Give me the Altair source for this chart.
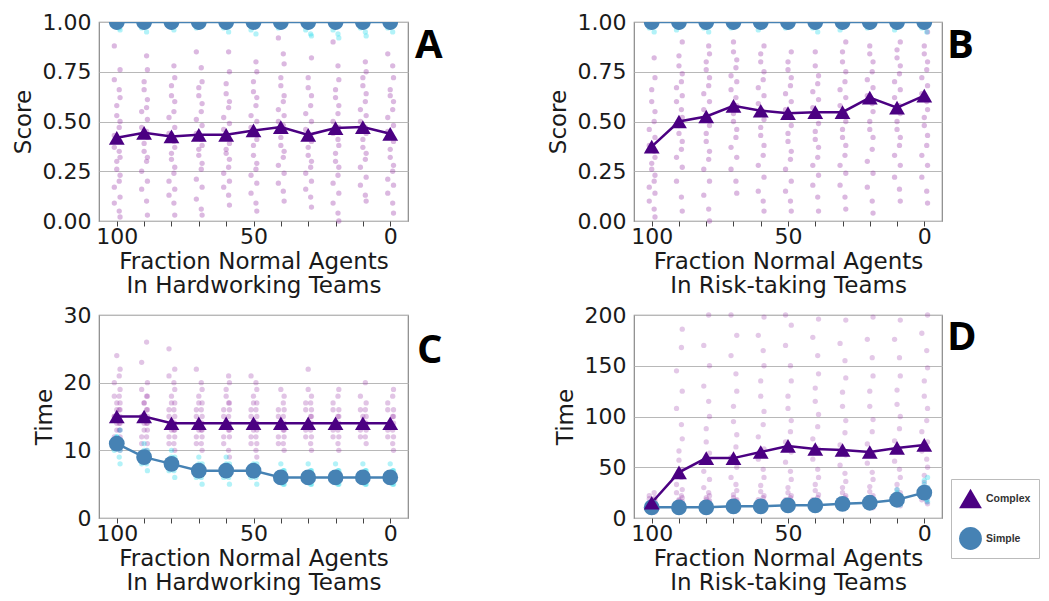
import altair as alt
import pandas as pd

X = [100, 90, 80, 70, 60, 50, 40, 30, 20, 10, 0]

A_COMPLEX_MEAN = [0.418, 0.443, 0.425, 0.433, 0.433, 0.455, 0.472, 0.433, 0.467, 0.472, 0.438]
A_SIMPLE_MEAN = [1.0, 1.0, 1.0, 1.0, 1.0, 1.0, 1.0, 1.0, 1.0, 1.0, 1.0]
B_COMPLEX_MEAN = [0.374, 0.50, 0.525, 0.579, 0.554, 0.542, 0.547, 0.547, 0.62, 0.57, 0.63]
B_SIMPLE_MEAN = [1.0, 1.0, 1.0, 1.0, 1.0, 1.0, 1.0, 1.0, 1.0, 1.0, 1.0]
C_COMPLEX_MEAN = [15, 15, 14, 14, 14, 14, 14, 14, 14, 14, 14]
C_SIMPLE_MEAN = [11, 9, 8, 7, 7, 7, 6, 6, 6, 6, 6]
D_COMPLEX_MEAN = [15, 45, 59, 59, 65, 71, 68, 67, 65, 69, 72]
D_SIMPLE_MEAN = [10.5, 10.5, 10.5, 11.5, 11.5, 12.5, 12.5, 14, 15, 18, 25]

A_COMPLEX_RUNS = [
    [0.02, 0.05, 0.09, 0.12, 0.17, 0.2, 0.23, 0.26, 0.3, 0.32, 0.35, 0.37, 0.4, 0.43, 0.47, 0.5, 0.53, 0.58, 0.62, 0.66, 0.71, 0.76, 0.88],
    [0.03, 0.1, 0.16, 0.2, 0.25, 0.3, 0.32, 0.35, 0.39, 0.42, 0.45, 0.47, 0.51, 0.55, 0.57, 0.61, 0.66, 0.7, 0.76, 0.83],
    [0.03, 0.09, 0.13, 0.16, 0.2, 0.24, 0.27, 0.31, 0.34, 0.37, 0.4, 0.44, 0.47, 0.52, 0.55, 0.6, 0.63, 0.68, 0.72, 0.78],
    [0.03, 0.06, 0.11, 0.17, 0.21, 0.26, 0.29, 0.33, 0.36, 0.38, 0.41, 0.44, 0.48, 0.51, 0.55, 0.59, 0.63, 0.67, 0.7, 0.77, 0.85],
    [0.08, 0.13, 0.17, 0.2, 0.24, 0.27, 0.31, 0.34, 0.36, 0.39, 0.42, 0.46, 0.49, 0.52, 0.57, 0.6, 0.64, 0.69, 0.75, 0.85],
    [0.05, 0.09, 0.14, 0.19, 0.23, 0.26, 0.29, 0.33, 0.38, 0.41, 0.44, 0.47, 0.5, 0.53, 0.58, 0.62, 0.65, 0.7, 0.75, 0.8],
    [0.1, 0.15, 0.19, 0.24, 0.28, 0.32, 0.35, 0.38, 0.42, 0.45, 0.48, 0.5, 0.53, 0.56, 0.6, 0.63, 0.68, 0.72, 0.79, 0.84, 0.92],
    [0.07, 0.12, 0.16, 0.2, 0.24, 0.27, 0.3, 0.33, 0.37, 0.4, 0.43, 0.46, 0.5, 0.54, 0.58, 0.63, 0.67, 0.72, 0.82],
    [0.0, 0.04, 0.09, 0.14, 0.19, 0.23, 0.27, 0.3, 0.34, 0.38, 0.41, 0.44, 0.47, 0.5, 0.54, 0.58, 0.62, 0.66, 0.71, 0.78, 0.9],
    [0.1, 0.13, 0.18, 0.22, 0.27, 0.31, 0.34, 0.37, 0.41, 0.44, 0.47, 0.5, 0.53, 0.56, 0.6, 0.64, 0.68, 0.72, 0.75, 0.8],
    [0.04, 0.09, 0.14, 0.18, 0.21, 0.25, 0.28, 0.32, 0.36, 0.4, 0.42, 0.45, 0.48, 0.52, 0.56, 0.6, 0.63, 0.66, 0.72, 0.78, 0.84],
]
A_SIMPLE_RUNS = [
    [1.0, 1.0, 0.99, 0.99, 0.98, 0.97, 0.96],
    [1.0, 1.0, 0.99, 0.98, 0.97, 0.95],
    [1.0, 1.0, 0.99, 0.99, 0.98, 0.96],
    [1.0, 1.0, 0.99, 0.98, 0.97],
    [1.0, 1.0, 0.99, 0.98, 0.97, 0.95],
    [1.0, 1.0, 0.99, 0.98, 0.96, 0.94],
    [1.0, 1.0, 0.99, 0.98, 0.97],
    [1.0, 1.0, 0.99, 0.98, 0.96, 0.94, 0.93],
    [1.0, 1.0, 0.99, 0.98, 0.96, 0.94, 0.92],
    [1.0, 1.0, 0.99, 0.98, 0.97, 0.95, 0.93],
    [1.0, 1.0, 0.99, 0.98, 0.97, 0.95],
]
B_COMPLEX_RUNS = [
    [0.02, 0.06, 0.1, 0.14, 0.17, 0.2, 0.23, 0.26, 0.29, 0.32, 0.35, 0.38, 0.42, 0.46, 0.5, 0.55, 0.6, 0.66, 0.72, 0.82],
    [0.05, 0.12, 0.2, 0.27, 0.32, 0.36, 0.4, 0.44, 0.48, 0.52, 0.56, 0.6, 0.63, 0.67, 0.7, 0.74, 0.78, 0.83, 0.9],
    [0.0, 0.06, 0.13, 0.2, 0.26, 0.31, 0.35, 0.4, 0.44, 0.48, 0.52, 0.56, 0.6, 0.64, 0.68, 0.72, 0.76, 0.8, 0.84, 0.88],
    [0.14, 0.2, 0.26, 0.32, 0.37, 0.42, 0.46, 0.5, 0.54, 0.58, 0.62, 0.66, 0.7, 0.73, 0.77, 0.81, 0.85, 0.9],
    [0.05, 0.1, 0.15, 0.22, 0.28, 0.33, 0.38, 0.43, 0.47, 0.51, 0.55, 0.59, 0.63, 0.67, 0.71, 0.75, 0.8, 0.84, 0.88],
    [0.05, 0.1, 0.15, 0.2, 0.26, 0.31, 0.35, 0.4, 0.44, 0.48, 0.52, 0.56, 0.6, 0.64, 0.68, 0.72, 0.76, 0.8, 0.85],
    [0.05, 0.12, 0.18, 0.23, 0.28, 0.32, 0.37, 0.41, 0.45, 0.49, 0.53, 0.57, 0.61, 0.65, 0.69, 0.73, 0.78, 0.85],
    [0.06, 0.12, 0.18, 0.24, 0.28, 0.33, 0.38, 0.42, 0.46, 0.5, 0.54, 0.58, 0.62, 0.66, 0.7, 0.75, 0.8, 0.85, 0.9],
    [0.04, 0.1, 0.17, 0.24, 0.3, 0.36, 0.42, 0.46, 0.5, 0.55, 0.59, 0.63, 0.67, 0.71, 0.75, 0.8, 0.84, 0.88],
    [0.1, 0.16, 0.22, 0.28, 0.33, 0.38, 0.42, 0.46, 0.5, 0.54, 0.58, 0.62, 0.66, 0.7, 0.74, 0.78, 0.82, 0.86, 0.9],
    [0.09, 0.15, 0.22, 0.28, 0.33, 0.38, 0.43, 0.48, 0.52, 0.56, 0.6, 0.64, 0.68, 0.72, 0.76, 0.8, 0.84, 0.88, 0.95],
]
B_SIMPLE_RUNS = [
    [1.0, 1.0, 0.99, 0.98, 0.97, 0.95],
    [1.0, 1.0, 0.99, 0.98, 0.96],
    [1.0, 1.0, 0.99, 0.98, 0.97, 0.95],
    [1.0, 1.0, 0.99, 0.98, 0.97],
    [1.0, 1.0, 0.99, 0.98, 0.96],
    [1.0, 1.0, 0.99, 0.98, 0.97],
    [1.0, 1.0, 0.99, 0.98, 0.97, 0.95],
    [1.0, 1.0, 0.99, 0.98, 0.96],
    [1.0, 1.0, 0.99, 0.98, 0.97],
    [1.0, 1.0, 0.99, 0.98, 0.96],
    [1.0, 1.0, 0.99, 0.98, 0.97, 0.95],
]
C_COMPLEX_RUNS = [
    [10, 11, 11, 12, 12, 13, 13, 13, 14, 14, 14, 15, 15, 15, 16, 16, 16, 17, 17, 18, 18, 19, 20, 21, 22, 24],
    [9, 10, 11, 11, 12, 12, 13, 13, 14, 14, 14, 15, 15, 15, 16, 16, 17, 17, 18, 18, 19, 20, 23, 26],
    [10, 11, 11, 12, 12, 13, 13, 13, 14, 14, 14, 15, 15, 16, 16, 17, 17, 18, 19, 20, 21, 22, 25],
    [10, 11, 11, 12, 12, 13, 13, 13, 14, 14, 14, 15, 15, 16, 16, 17, 17, 18, 19, 20, 22],
    [9, 10, 11, 12, 12, 13, 13, 14, 14, 14, 15, 15, 16, 16, 17, 17, 18, 19, 20, 21],
    [9, 10, 11, 11, 12, 12, 13, 13, 14, 14, 14, 15, 15, 16, 16, 17, 17, 18, 19, 20, 21],
    [10, 11, 11, 12, 12, 13, 13, 14, 14, 14, 15, 15, 16, 16, 17, 18, 19],
    [10, 11, 12, 12, 13, 13, 14, 14, 14, 15, 15, 16, 16, 17, 17, 18, 19, 22],
    [10, 11, 12, 12, 13, 13, 14, 14, 14, 15, 15, 16, 16, 17, 18, 19],
    [11, 12, 12, 13, 13, 14, 14, 14, 15, 15, 16, 16, 17, 18, 20],
    [10, 11, 12, 12, 13, 13, 14, 14, 14, 15, 15, 16, 16, 17, 18, 19],
]
C_SIMPLE_RUNS = [
    [8, 9, 10, 10, 11, 11, 11, 12, 12, 13],
    [7, 8, 8, 9, 9, 9, 10, 10, 11],
    [6, 7, 7, 8, 8, 8, 9, 9, 10],
    [5, 6, 6, 7, 7, 7, 8, 8, 9],
    [5, 6, 6, 7, 7, 7, 8, 8, 9],
    [5, 6, 6, 7, 7, 7, 8, 8],
    [5, 5, 6, 6, 6, 7, 7, 8],
    [5, 5, 6, 6, 6, 7, 7, 8],
    [5, 5, 6, 6, 6, 7, 7, 8],
    [5, 5, 6, 6, 6, 7, 7, 8],
    [5, 5, 6, 6, 6, 7, 7, 8],
]
D_COMPLEX_RUNS = [
    [6, 8, 10, 11, 12, 13, 14, 15, 16, 17, 18, 19, 20, 22, 25],
    [8, 10, 12, 13, 14, 15, 16, 17, 18, 20, 22, 25, 28, 33, 40, 48, 57, 66, 78, 92, 108, 125, 145, 168, 186],
    [8, 10, 12, 14, 15, 16, 17, 18, 20, 22, 25, 30, 38, 46, 55, 64, 75, 88, 100, 115, 130, 150, 170, 200],
    [9, 11, 13, 15, 16, 17, 18, 20, 23, 27, 33, 40, 50, 60, 70, 82, 95, 110, 125, 142, 160, 180, 200],
    [10, 12, 14, 16, 18, 20, 22, 26, 32, 40, 48, 58, 68, 80, 92, 105, 120, 135, 150, 165, 180, 198],
    [10, 12, 14, 16, 18, 20, 22, 25, 30, 38, 46, 55, 65, 75, 85, 96, 108, 120, 135, 150, 170, 190, 200],
    [10, 12, 14, 16, 18, 20, 23, 27, 33, 40, 48, 58, 68, 78, 90, 102, 115, 128, 142, 160, 178, 196],
    [10, 12, 14, 16, 18, 20, 22, 25, 30, 36, 44, 52, 62, 72, 84, 96, 110, 124, 138, 155, 172, 195],
    [10, 12, 14, 16, 18, 20, 22, 26, 31, 38, 45, 54, 63, 73, 85, 97, 110, 125, 140, 158, 176, 198],
    [12, 14, 16, 18, 20, 22, 25, 28, 33, 40, 48, 56, 66, 76, 88, 100, 112, 126, 140, 158, 176, 195],
    [14, 16, 18, 20, 23, 26, 30, 35, 42, 50, 58, 66, 75, 85, 96, 108, 120, 135, 148, 165, 182, 200],
]
D_SIMPLE_RUNS = [
    [8, 9, 10, 11, 11, 12, 13, 15],
    [8, 9, 10, 11, 11, 12, 13],
    [8, 9, 10, 11, 11, 12, 13, 14],
    [9, 10, 11, 12, 12, 13, 14],
    [9, 10, 11, 12, 12, 13, 14, 15],
    [10, 11, 12, 13, 13, 14, 15],
    [10, 11, 12, 13, 13, 14, 15, 16],
    [11, 12, 13, 14, 14, 15, 16, 17],
    [12, 13, 14, 15, 15, 16, 17, 19],
    [13, 15, 16, 18, 18, 20, 22, 25, 28],
    [16, 18, 21, 23, 25, 27, 30, 33, 37, 40],
]

TYPES = ["Complex", "Simple"]
LINE_COLORS = ["#4B0082", "#4682B4"]
SHAPES = ["triangle-up", "circle"]
# lower half of a circle: what remains of a marker sitting on the top frame
HALF_CIRCLE = "M-1,0A1,1,0,0,0,1,0Z"


def points_df(runs):
    rows = []
    for i, col in enumerate(runs):
        for k, v in enumerate(col):
            rows.append({"x": X[i], "y": v, "k": k})
    return pd.DataFrame(rows)


def means_df(cmean, smean):
    rows = [{"x": X[i], "y": smean[i], "type": "Simple"} for i in range(len(X))]
    rows += [{"x": X[i], "y": cmean[i], "type": "Complex"} for i in range(len(X))]
    return pd.DataFrame(rows)


def panel(letter, cruns, sruns, cmean, smean, ydom, yvals, yfmt, ytitle, team,
          w, h, lx, ly, at_top, show_legend, pop):
    xs = alt.Scale(domain=[-6.5, 106.5], reverse=True, nice=False, zero=False)
    ys = alt.Scale(domain=ydom, nice=False, zero=False)
    xa = alt.Axis(values=X, labelExpr="datum.value % 50 === 0 ? datum.label : ''",
                  title=["Fraction Normal Agents", "\u00a0In " + team],
                  grid=False, domain=False, ticks=True, tickSize=5,
                  labelPadding=0, titlePadding=3, titleLineHeight=24,
                  labelFlush=False)
    ya = alt.Axis(values=yvals, format=yfmt, title=ytitle, grid=True,
                  domain=False, ticks=False, labelPadding=8, titlePadding=7)
    jit = "datum.x + (((datum.k * datum.k * 7 + datum.k * 3) % 9) - 4) * 0.3"
    ex = alt.X("x:Q", scale=xs, axis=xa)
    ey = alt.Y("y:Q", scale=ys, axis=ya)

    cpts = alt.Chart(points_df(cruns)).transform_calculate(xj=jit).mark_circle(
        size=28, color="#9a3aaa", opacity=pop
    ).encode(x=alt.X("xj:Q", scale=xs, axis=xa), y=ey)
    spts = alt.Chart(points_df(sruns)).transform_calculate(xj=jit).mark_circle(
        size=28, color="#00d5e8", opacity=0.3, clip=at_top
    ).encode(x=alt.X("xj:Q", scale=xs, axis=xa), y=ey)

    mdf = means_df(cmean, smean)
    sline = alt.Chart(mdf).transform_filter("datum.type == 'Simple'").mark_line(
        color=LINE_COLORS[1], strokeWidth=2.5, clip=at_top
    ).encode(x=ex, y=ey)
    cline = alt.Chart(mdf).transform_filter("datum.type == 'Complex'").mark_line(
        color=LINE_COLORS[0], strokeWidth=2.5
    ).encode(x=ex, y=ey)

    layers = [cpts, spts, sline, cline]
    if show_legend:
        leg = alt.Legend(orient="none", legendX=317, legendY=164, title=None)
    else:
        leg = None
    cscale = alt.Scale(domain=TYPES, range=LINE_COLORS)
    sscale = alt.Scale(domain=TYPES, range=SHAPES)
    if at_top:
        halves = alt.Chart(mdf).transform_filter("datum.type == 'Simple'").mark_point(
            filled=True, opacity=1, size=250, color=LINE_COLORS[1], shape=HALF_CIRCLE
        ).encode(x=ex, y=ey)
        tri = alt.Chart(mdf).transform_filter("datum.type == 'Complex'").mark_point(
            filled=True, opacity=1, size=250
        ).encode(x=ex, y=ey,
                 color=alt.Color("type:N", scale=cscale, legend=None),
                 shape=alt.Shape("type:N", scale=sscale, legend=None))
        layers += [halves, tri]
    else:
        marks = alt.Chart(mdf).mark_point(filled=True, opacity=1, size=250).encode(
            x=ex, y=ey,
            color=alt.Color("type:N", scale=cscale, legend=leg),
            shape=alt.Shape("type:N", scale=sscale, legend=leg),
            order=alt.Order("type:N", sort="descending"),
        )
        layers.append(marks)

    lab = alt.Chart(pd.DataFrame({"t": [letter]})).mark_text(
        align="left", baseline="middle", fontSize=40, fontWeight="bold",
        font="Open Sans", color="black"
    ).encode(text="t:N", x=alt.value(w + lx), y=alt.value(ly))
    layers.append(lab)

    return alt.layer(*layers).properties(width=w, height=h)


A = panel("A", A_COMPLEX_RUNS, A_SIMPLE_RUNS, A_COMPLEX_MEAN, A_SIMPLE_MEAN,
          [0, 1], [0, 0.25, 0.5, 0.75, 1.0], ".2f", "Score", "Hardworking Teams",
          309, 199, 7, 24, True, False, 0.36)
B = panel("B", B_COMPLEX_RUNS, B_SIMPLE_RUNS, B_COMPLEX_MEAN, B_SIMPLE_MEAN,
          [0, 1], [0, 0.25, 0.5, 0.75, 1.0], ".2f", "Score", "Risk-taking Teams",
          308, 199, 5, 24, True, False, 0.36)
C = panel("C", C_COMPLEX_RUNS, C_SIMPLE_RUNS, C_COMPLEX_MEAN, C_SIMPLE_MEAN,
          [0, 30], [0, 10, 20, 30], "d", "Time", "Hardworking Teams",
          309, 203, 9, 36, False, False, 0.3)
D = panel("D", D_COMPLEX_RUNS, D_SIMPLE_RUNS, D_COMPLEX_MEAN, D_SIMPLE_MEAN,
          [0, 200], [0, 50, 100, 150, 200], "d", "Time", "Risk-taking Teams",
          308, 203, 5, 23, False, True, 0.28)

chart = alt.concat(A, B, C, D, columns=2, spacing={"row": 5, "column": 102}).resolve_scale(
    x="independent", y="independent", color="shared", shape="shared"
).resolve_legend(
    color="independent", shape="independent"
).properties(
    padding={"left": 3, "top": 2, "right": 0, "bottom": 0}
).configure_view(
    stroke="#888888", strokeWidth=1.2
).configure_axis(
    labelFont="DejaVu Sans", labelFontSize=22, labelColor="#1a1a1a",
    titleFont="DejaVu Sans", titleFontSize=23, titleFontWeight="normal",
    titleColor="#1a1a1a", gridColor="#b8b8b8", gridWidth=1, tickColor="#444444"
).configure_legend(
    symbolSize=520, symbolStrokeWidth=0, labelFont="Liberation Sans",
    labelFontSize=10.5, labelFontWeight="bold", labelColor="#333333",
    strokeColor="#bbbbbb", fillColor="white", padding=8, rowPadding=18,
    labelOffset=4, cornerRadius=0
)

chart.save("out.html", embed_options={"renderer": "svg", "actions": False})
